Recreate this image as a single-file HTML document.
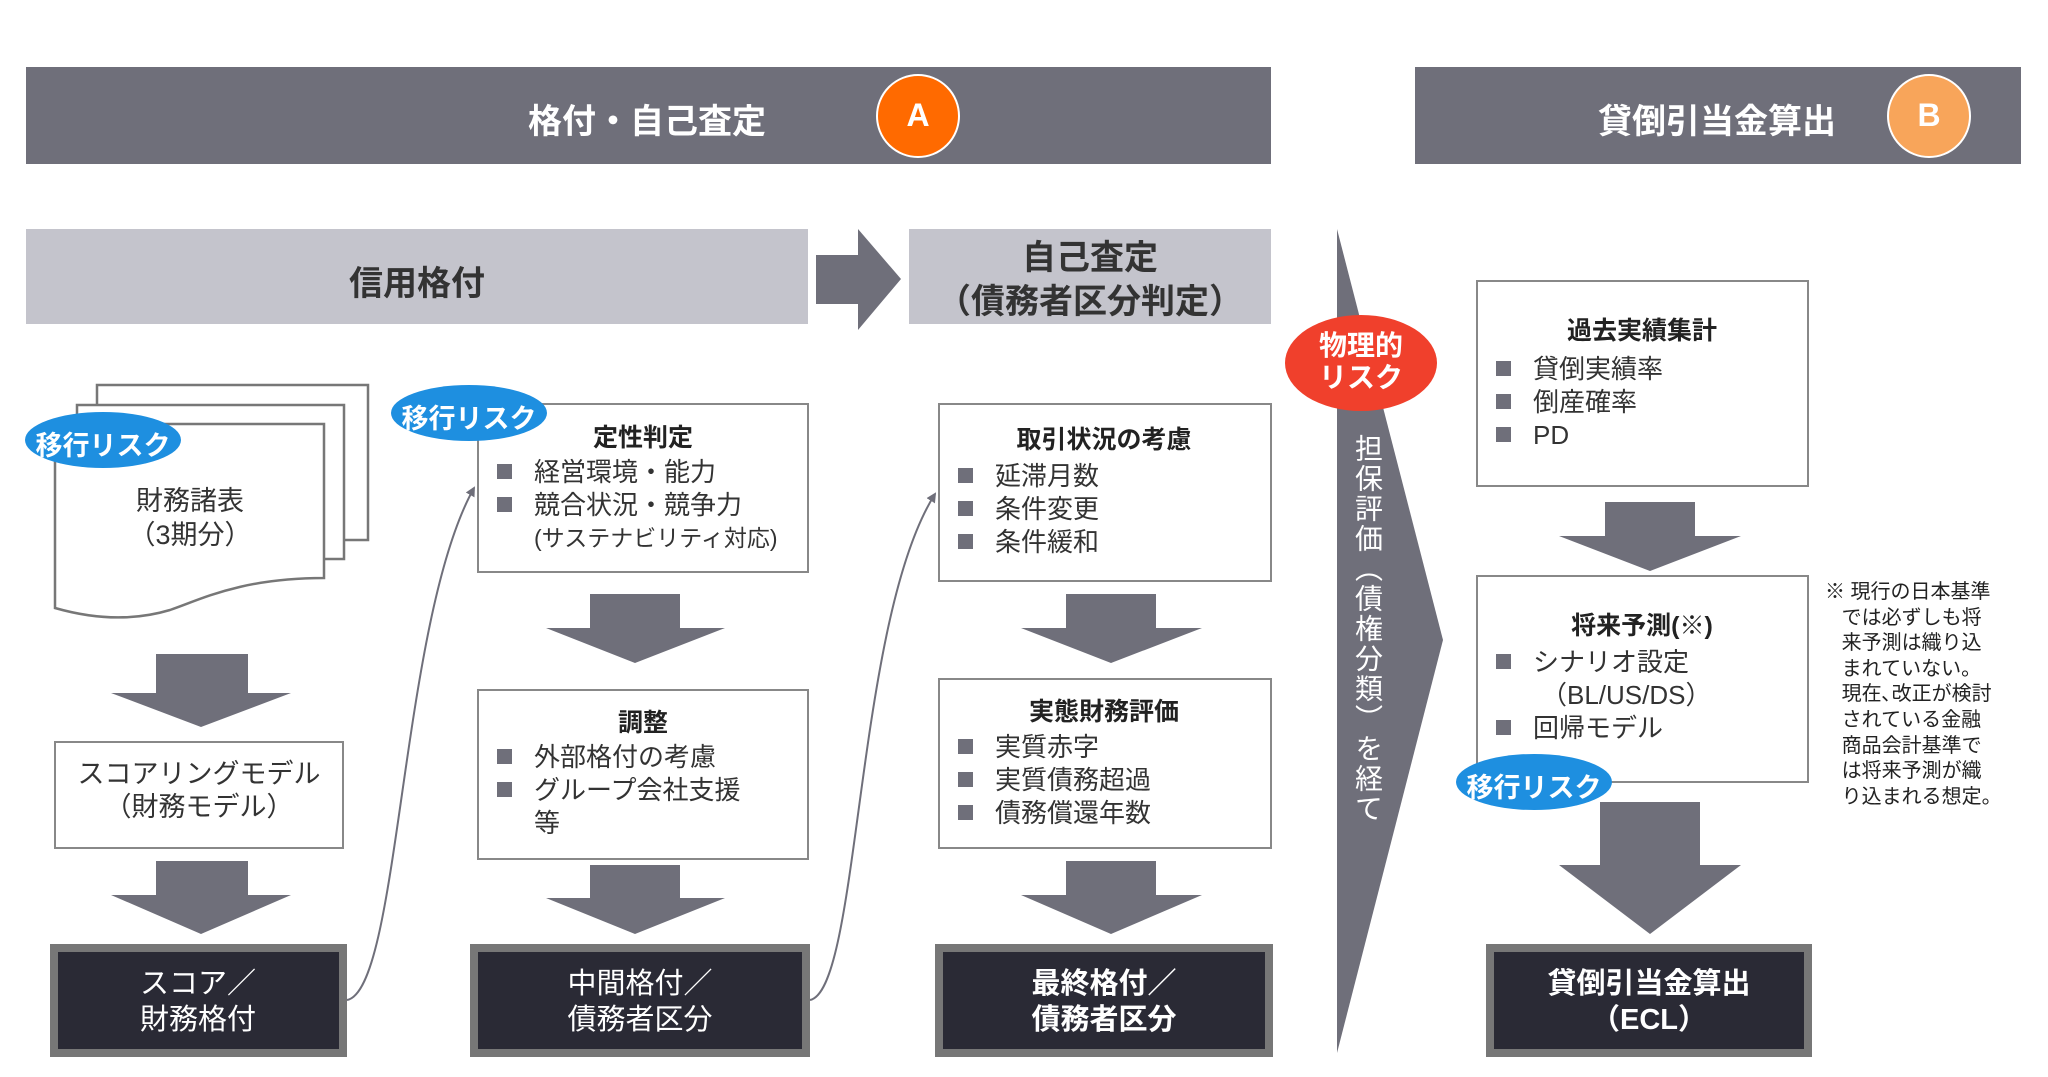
<!DOCTYPE html>
<html><head><meta charset="utf-8">
<style>
body{margin:0;width:2048px;height:1077px;background:#fff;overflow:hidden;position:relative;font-family:"Liberation Sans","Noto Sans CJK JP",sans-serif;}
.t{position:absolute;white-space:nowrap;color:#222;}
.c{transform:translateX(-50%);text-align:center;}
.w{color:#fff}
.b{font-weight:bold}
.bl{position:absolute;font-size:26px;color:#333;white-space:nowrap;line-height:33px}
.bl i{display:inline-block;width:15px;height:15px;background:#6f6f7a;margin-right:22px;vertical-align:2px}
</style></head><body>
<svg width="2048" height="1077" style="position:absolute;left:0;top:0">
<defs><marker id="ah" markerWidth="10" markerHeight="10" refX="8" refY="5" orient="auto" markerUnits="userSpaceOnUse"><path d="M0,0 L10,5 L0,10 z" fill="#6f6f7a"/></marker></defs>
<rect x="26" y="67" width="1245" height="97" fill="#6f6f7a"/>
<rect x="1415" y="67" width="606" height="97" fill="#6f6f7a"/>
<ellipse cx="918" cy="116" rx="41" ry="41" fill="#ff6a00" stroke="#fff" stroke-width="2"/>
<ellipse cx="1929" cy="116" rx="41" ry="41" fill="#f8a55a" stroke="#fff" stroke-width="2"/>
<rect x="26" y="229" width="782" height="95" fill="#c4c4cc"/>
<rect x="909" y="229" width="362" height="95" fill="#c4c4cc"/>
<polygon points="816,255 858,255 858,229 901,279 858,330 858,304 816,304" fill="#6f6f7a"/>
<polygon points="1337,229 1443,640 1337,1053" fill="#6f6f7a"/>
<g fill="#fff" stroke="#777" stroke-width="2.5">
<rect x="97" y="385" width="271" height="155"/>
<rect x="77" y="405" width="267" height="154"/>
<path d="M55,424 L324,424 L324,578 C240,578 200,600 170,610 C130,622 90,618 55,608 Z"/>
</g>
<g fill="#6f6f7a">
<polygon points="156,654 248,654 248,693 291,693 201,727 111,693 156,693"/>
<polygon points="156,861 248,861 248,895 291,895 201,934 111,895 156,895"/>
<polygon points="590,594 680,594 680,628 725,628 635,663 546,628 590,628"/>
<polygon points="590,865 680,865 680,898 725,898 635,934 546,898 590,898"/>
<polygon points="1066,594 1156,594 1156,628 1202,628 1111,663 1021,628 1066,628"/>
<polygon points="1066,861 1156,861 1156,895 1202,895 1111,934 1021,895 1066,895"/>
<polygon points="1605,502 1695,502 1695,536 1741,536 1650,571 1559,536 1605,536"/>
<polygon points="1600,802 1700,802 1700,865 1741,865 1650,934 1559,865 1600,865"/>
</g>
<g fill="#fff" stroke="#888" stroke-width="2">
<rect x="55" y="742" width="288" height="106"/>
<rect x="478" y="404" width="330" height="168"/>
<rect x="478" y="690" width="330" height="169"/>
<rect x="939" y="404" width="332" height="177"/>
<rect x="939" y="679" width="332" height="169"/>
<rect x="1477" y="281" width="331" height="205"/>
<rect x="1477" y="576" width="331" height="206"/>
</g>
<g fill="#2a2a35" stroke="#777" stroke-width="8">
<rect x="54" y="948" width="289" height="105"/>
<rect x="474" y="948" width="332" height="105"/>
<rect x="939" y="948" width="330" height="105"/>
<rect x="1490" y="948" width="318" height="105"/>
</g>
<g fill="none" stroke="#6f6f7a" stroke-width="2">
<path d="M347,1000 C400,990 400,620 474,488" marker-end="url(#ah)"/>
<path d="M810,1000 C860,990 855,620 935,494" marker-end="url(#ah)"/>
</g>
<g fill="#1e8fe0">
<ellipse cx="103" cy="440" rx="78" ry="28"/>
<ellipse cx="469" cy="413" rx="78" ry="28"/>
<ellipse cx="1534" cy="782" rx="78" ry="28"/>
</g>
<ellipse cx="1361" cy="363" rx="76" ry="48" fill="#f0402c"/>
</svg>
<div class="t w b c" style="left:647px;top:94px;font-size:34px">格付・自己査定</div>
<div class="t w b c" style="left:918px;top:97px;font-size:32px">A</div>
<div class="t w b c" style="left:1717px;top:94px;font-size:34px">貸倒引当金算出</div>
<div class="t w b c" style="left:1929px;top:97px;font-size:32px">B</div>
<div class="t b c" style="left:417px;top:256px;font-size:34px;color:#333">信用格付</div>
<div class="t b c" style="left:1090px;top:236px;font-size:34px;line-height:44px;color:#333">自己査定<br>（債務者区分判定）</div>
<div class="t w b c" style="left:1361px;top:330px;font-size:28px;line-height:32px">物理的<br>リスク</div>
<div class="t w" style="left:1347px;top:434px;font-size:28px;writing-mode:vertical-rl;letter-spacing:2px">担保評価（債権分類）を経て</div>
<div class="t w b c" style="left:103px;top:424px;font-size:27px">移行リスク</div>
<div class="t w b c" style="left:469px;top:397px;font-size:27px">移行リスク</div>
<div class="t w b c" style="left:1534px;top:766px;font-size:27px">移行リスク</div>
<div class="t c" style="left:190px;top:484px;font-size:27px;line-height:34px;color:#333">財務諸表<br>（3期分）</div>
<div class="t c" style="left:199px;top:758px;font-size:27px;line-height:33px;color:#333">スコアリングモデル<br>（財務モデル）</div>
<div class="t w c" style="left:198px;top:966px;font-size:29px;line-height:36px">スコア／<br>財務格付</div>
<div class="t w c" style="left:640px;top:966px;font-size:29px;line-height:36px">中間格付／<br>債務者区分</div>
<div class="t w b c" style="left:1104px;top:966px;font-size:29px;line-height:36px">最終格付／<br>債務者区分</div>
<div class="t w b c" style="left:1649px;top:966px;font-size:29px;line-height:36px">貸倒引当金算出<br>（ECL）</div>
<div class="t b c" style="left:643px;top:418px;font-size:25px">定性判定</div>
<div class="bl" style="left:497px;top:456px">
<div><i></i>経営環境・能力</div><div><i></i>競合状況・競争力</div><div style="padding-left:37px;font-size:23px">(サステナビリティ対応)</div></div>
<div class="t b c" style="left:643px;top:703px;font-size:25px">調整</div>
<div class="bl" style="left:497px;top:741px">
<div><i></i>外部格付の考慮</div><div><i></i>グループ会社支援</div><div style="padding-left:37px">等</div></div>
<div class="t b c" style="left:1104px;top:420px;font-size:25px">取引状況の考慮</div>
<div class="bl" style="left:958px;top:460px">
<div><i></i>延滞月数</div><div><i></i>条件変更</div><div><i></i>条件緩和</div></div>
<div class="t b c" style="left:1104px;top:692px;font-size:25px">実態財務評価</div>
<div class="bl" style="left:958px;top:731px">
<div><i></i>実質赤字</div><div><i></i>実質債務超過</div><div><i></i>債務償還年数</div></div>
<div class="t b c" style="left:1642px;top:311px;font-size:25px">過去実績集計</div>
<div class="bl" style="left:1496px;top:353px">
<div><i></i>貸倒実績率</div><div><i></i>倒産確率</div><div><i></i>PD</div></div>
<div class="t b c" style="left:1642px;top:606px;font-size:25px">将来予測(※)</div>
<div class="bl" style="left:1496px;top:646px">
<div><i></i>シナリオ設定</div><div style="padding-left:45px">（BL/US/DS）</div><div><i></i>回帰モデル</div></div>
<div class="t" style="left:1825px;top:580px;font-size:20px;line-height:25.6px;color:#222">※ 現行の日本基準<br>&nbsp;&nbsp;&nbsp;では必ずしも将<br>&nbsp;&nbsp;&nbsp;来予測は織り込<br>&nbsp;&nbsp;&nbsp;まれていない。<br>&nbsp;&nbsp;&nbsp;現在､改正が検討<br>&nbsp;&nbsp;&nbsp;されている金融<br>&nbsp;&nbsp;&nbsp;商品会計基準で<br>&nbsp;&nbsp;&nbsp;は将来予測が織<br>&nbsp;&nbsp;&nbsp;り込まれる想定。</div>
</body></html>
